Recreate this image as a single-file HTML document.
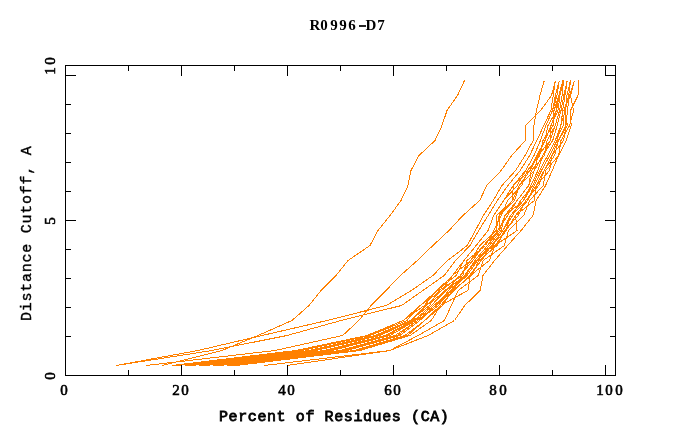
<!DOCTYPE html>
<html><head><meta charset="utf-8"><style>
html,body{margin:0;padding:0;background:#fff;}
body{width:680px;height:440px;position:relative;overflow:hidden;}
.t{position:absolute;font-family:"Liberation Mono",monospace;font-weight:normal;font-size:15px;line-height:15px;letter-spacing:0.6px;white-space:pre;color:#000;-webkit-text-stroke:0.8px #000;will-change:transform;}
.c{position:absolute;width:20px;text-align:center;font-family:"Liberation Serif",serif;font-weight:normal;font-size:15px;line-height:15px;white-space:pre;color:#000;-webkit-text-stroke:0.6px #000;will-change:transform;}
.b{font-weight:bold;font-size:15px;line-height:15px;-webkit-text-stroke:0;}
.r{transform-origin:0 0;transform:rotate(-90deg);}
svg{position:absolute;left:0;top:0;}
</style></head><body>
<svg width="680" height="440" viewBox="0 0 680 440" shape-rendering="crispEdges">
<g stroke="#ff8000" stroke-width="1" fill="none">
<path d="M162 365.5 L222 350.5 L258 335.5 L292 320.5 L309 305.5 L321 290.5 L336 275.5 L348 260.5 L370 245.5 L378 230.5 L390 215.5 L401 200.5 L408 185.5 L411 170.5 L419 155.5 L435 140.5 L442 125.5 L447 110.5 L457.5 95.5 L464.5 80.5"/>
<path d="M146 365.5 L275 350.5 L342.7 335.5 L358.8 320.5 L371 305.5 L385.9 290.5 L400.5 275.5 L417.4 260.5 L432.9 245.5 L449 230.5 L462.9 215.5 L479.7 200.5 L486.8 185.5 L501.2 170.5 L511.7 155.5 L525.4 140.5 L525.3 125.5 L540.6 110.5 L551.5 95.5 L555.4 80.5"/>
<path d="M287 365.5 L390 350.5 L428 335.5 L454.5 320.5 L464.7 305.5 L480.2 290.5 L483 275.5 L494.6 260.5 L507.7 245.5 L521.1 230.5 L533 215.5 L536.2 200.5 L545.6 185.5 L552.2 170.5 L558.6 155.5 L566.1 140.5 L571.1 125.5 L570.5 110.5 L578 95.5 L578.4 80.5"/>
<path d="M116 365.5 L198 350.5 L262 335.5 L327 320.5 L386.3 305.5 L411.5 290.5 L432.9 275.5 L447.5 260.5 L467.3 245.5 L475.4 230.5 L483.4 215.5 L493.2 200.5 L502 185.5 L515.6 170.5 L525 155.5 L533.2 140.5 L534 125.5 L536.5 110.5 L540 95.5 L544.3 80.5"/>
<path d="M116 365.5 L212 350.5 L287 335.5 L341 320.5 L401.6 305.5 L422.9 290.5 L444.2 275.5 L455.6 260.5 L470 245.5 L478.7 230.5 L488.1 215.5 L497.4 200.5 L507.9 185.5 L520.2 170.5 L529.7 155.5 L536.8 140.5 L543.8 125.5 L550.9 110.5 L553.2 95.5 L555.4 80.5"/>
<path d="M172 365.5 L296 350.5 L367 335.5 L403.163 320.5 L424.45 305.5 L436.938 290.5 L456.05 275.5 L463.95 260.5 L476.125 245.5 L488.13 230.5 L493.627 215.5 L503.592 200.5 L517.205 185.5 L525.652 170.5 L534.002 155.5 L540.4 140.5 L545.9 125.5 L552.5 110.5 L557 95.5 L559.3 80.5"/>
<path d="M178 365.5 L302 350.5 L370 335.5 L406.913 320.5 L420.175 305.5 L441.587 290.5 L452.525 275.5 L470.55 260.5 L479.875 245.5 L496.035 230.5 L496.688 215.5 L512.602 200.5 L513.21 185.5 L530.072 170.5 L536.638 155.5 L545 140.5 L548 125.5 L556.6 110.5 L555.4 95.5 L559.3 80.5"/>
<path d="M185 365.5 L309 350.5 L375 335.5 L410.212 320.5 L429.475 305.5 L438.812 290.5 L462.8 275.5 L466.95 260.5 L485.5 245.5 L493.74 230.5 L501.447 215.5 L507.587 200.5 L521.71 185.5 L527.438 170.5 L539.697 155.5 L543 140.5 L553.1 125.5 L554 110.5 L559 95.5 L562.8 80.5"/>
<path d="M192 365.5 L316 350.5 L380 335.5 L411.938 320.5 L426.175 305.5 L446.312 290.5 L460.4 275.5 L472.8 260.5 L483.55 245.5 L499.35 230.5 L499.238 215.5 L514.557 200.5 L519.245 185.5 L534.322 170.5 L537.998 155.5 L550.2 140.5 L551 125.5 L558 110.5 L559.9 95.5 L563.5 80.5"/>
<path d="M199 365.5 L324 350.5 L385 335.5 L413.812 320.5 L431.65 305.5 L444.888 290.5 L465.8 275.5 L474.975 260.5 L487.525 245.5 L497.65 230.5 L507.652 215.5 L517.107 200.5 L528.68 185.5 L531.347 170.5 L544.543 155.5 L547.1 140.5 L555.2 125.5 L559.6 110.5 L562.1 95.5 L563.5 80.5"/>
<path d="M206 365.5 L332 350.5 L390 335.5 L415.688 320.5 L433.75 305.5 L450.812 290.5 L464.6 275.5 L476.625 260.5 L489.475 245.5 L501.05 230.5 L504.848 215.5 L523.567 200.5 L530.72 185.5 L537.977 170.5 L542.758 155.5 L552.7 140.5 L557.2 125.5 L561 110.5 L563.8 95.5 L567.2 80.5"/>
<path d="M213 365.5 L340 350.5 L395 335.5 L417.562 320.5 L438.775 305.5 L448.188 290.5 L467.075 275.5 L477.45 260.5 L492.925 245.5 L502.75 230.5 L512.752 215.5 L520.592 200.5 L532.675 185.5 L539.678 170.5 L547.602 155.5 L555.3 140.5 L563.4 125.5 L562.7 110.5 L565 95.5 L567.2 80.5"/>
<path d="M220 365.5 L347 350.5 L400 335.5 L419.737 320.5 L435.925 305.5 L454.112 290.5 L469.475 275.5 L481.05 260.5 L491.5 245.5 L506.15 230.5 L510.457 215.5 L527.562 200.5 L534.205 185.5 L541.462 170.5 L549.727 155.5 L557 140.5 L560.8 125.5 L565.3 110.5 L566.9 95.5 L570.5 80.5"/>
<path d="M227 365.5 L354 350.5 L405 335.5 L424.688 320.5 L442.375 305.5 L452.312 290.5 L471.875 275.5 L478.875 260.5 L497.125 245.5 L504.45 230.5 L518.362 215.5 L525.607 200.5 L538.71 185.5 L544.097 170.5 L554.572 155.5 L558.4 140.5 L567.5 125.5 L564 110.5 L568.7 95.5 L570.5 80.5"/>
<path d="M236 365.5 L360 350.5 L410 335.5 L431.288 320.5 L440.425 305.5 L467.9 290.5 L470.3 275.5 L489.4 260.5 L494.95 245.5 L517.1 230.5 L515.558 215.5 L534.4 200.5 L536.245 185.5 L549.6 170.5 L551.938 155.5 L563.6 140.5 L566 125.5 L567.4 110.5 L569.5 95.5 L574.4 80.5"/>
<path d="M264 365.5 L390 350.5 L418 335.5 L444.5 320.5 L451.3 305.5 L458.087 290.5 L478.2 275.5 L483.225 260.5 L504.4 245.5 L508.36 230.5 L523.8 215.5 L529.602 200.5 L543.2 185.5 L545.798 170.5 L558.6 155.5 L561 140.5 L569.6 125.5 L573.6 110.5 L570.5 95.5 L574.4 80.5"/>
<path d="M175 365.5 L299 350.5 L368.5 335.5 L403.163 320.5 L420.175 305.5 L436.938 290.5 L452.525 275.5 L463.95 260.5 L476.125 245.5 L488.13 230.5 L493.627 215.5 L503.592 200.5 L513.21 185.5 L525.652 170.5 L534.002 155.5 L540.4 140.5 L545.9 125.5 L552.5 110.5 L555.4 95.5 L559.3 80.5"/>
<path d="M188.5 365.5 L312.5 350.5 L377.5 335.5 L410.212 320.5 L426.175 305.5 L441.587 290.5 L460.4 275.5 L470.55 260.5 L483.55 245.5 L496.035 230.5 L499.238 215.5 L512.602 200.5 L519.245 185.5 L530.072 170.5 L537.998 155.5 L545 140.5 L551 125.5 L556.6 110.5 L559 95.5 L562.8 80.5"/>
<path d="M202.5 365.5 L328 350.5 L387.5 335.5 L413.812 320.5 L431.65 305.5 L446.312 290.5 L464.6 275.5 L474.975 260.5 L487.525 245.5 L499.35 230.5 L504.848 215.5 L517.107 200.5 L528.68 185.5 L534.322 170.5 L542.758 155.5 L550.2 140.5 L555.2 125.5 L559.6 110.5 L562.1 95.5 L563.5 80.5"/>
<path d="M216.5 365.5 L343.5 350.5 L397.5 335.5 L417.562 320.5 L435.925 305.5 L450.812 290.5 L467.075 275.5 L477.45 260.5 L491.5 245.5 L502.75 230.5 L510.457 215.5 L523.567 200.5 L532.675 185.5 L539.678 170.5 L547.602 155.5 L555.3 140.5 L560.8 125.5 L562.7 110.5 L565 95.5 L567.2 80.5"/>
<path d="M231.5 365.5 L357 350.5 L407.5 335.5 L424.688 320.5 L440.425 305.5 L454.112 290.5 L470.3 275.5 L481.05 260.5 L494.95 245.5 L506.15 230.5 L515.558 215.5 L527.562 200.5 L536.245 185.5 L544.097 170.5 L551.938 155.5 L558.4 140.5 L566 125.5 L565.3 110.5 L568.7 95.5 L570.5 80.5"/>
</g>
<g stroke="#000" stroke-width="1" fill="none">
<rect x="65.5" y="65.5" width="550" height="310"/>
<path d="M128.5 375V370M181.5 375V365M234.5 375V370M287.5 375V365M340.5 375V370M393.5 375V365M446.5 375V370M499.5 375V365M552.5 375V370M605.5 375V365"/>
<path d="M128.5 65V71M181.5 65V76M234.5 65V71M287.5 65V76M340.5 65V71M393.5 65V76M446.5 65V71M499.5 65V76M552.5 65V71M605.5 65V76"/>
<path d="M65 75.5H76M65 104.5H71M65 133.5H71M65 162.5H71M65 191.5H71M65 220.5H76M65 249.5H71M65 278.5H71M65 307.5H71M65 336.5H71"/>
<path d="M616 75.5H605M616 104.5H610M616 133.5H610M616 162.5H610M616 191.5H610M616 220.5H605M616 249.5H610M616 278.5H610M616 307.5H610M616 336.5H610"/>
</g>
</svg>
<div class="t" style="left:219px;top:410px">Percent of Residues (CA)</div>
<div class="t r" style="left:20px;top:321px;letter-spacing:0.75px;-webkit-text-stroke:0.35px #000">Distance Cutoff, A</div>
<div class="c b" style="left:305.3px;top:18px">R</div>
<div class="c b" style="left:314.3px;top:18px">0</div>
<div class="c b" style="left:323.8px;top:18px">9</div>
<div class="c b" style="left:332.6px;top:18px">9</div>
<div class="c b" style="left:342.3px;top:18px">6</div>
<div class="c b" style="left:360.9px;top:18px">D</div>
<div class="c b" style="left:371.0px;top:18px">7</div>
<div style="position:absolute;left:359px;top:25px;width:7px;height:2px;background:#000;opacity:0.85"></div>
<div class="c" style="left:54.4px;top:383px">0</div>
<div class="c" style="left:165.5px;top:383px">2</div>
<div class="c" style="left:174.6px;top:383px">0</div>
<div class="c" style="left:272.0px;top:383px">4</div>
<div class="c" style="left:280.8px;top:383px">0</div>
<div class="c" style="left:377.5px;top:383px">6</div>
<div class="c" style="left:386.8px;top:383px">0</div>
<div class="c" style="left:483.4px;top:383px">8</div>
<div class="c" style="left:492.5px;top:383px">0</div>
<div class="c" style="left:589.9px;top:383px">1</div>
<div class="c" style="left:598.5px;top:383px">0</div>
<div class="c" style="left:608.6px;top:383px">0</div>
<div class="c r" style="left:43px;top:80.8px">1</div>
<div class="c r" style="left:43px;top:71.1px">0</div>
<div class="c r" style="left:43px;top:231.2px">5</div>
<div class="c r" style="left:43px;top:386.0px">0</div>
</body></html>
